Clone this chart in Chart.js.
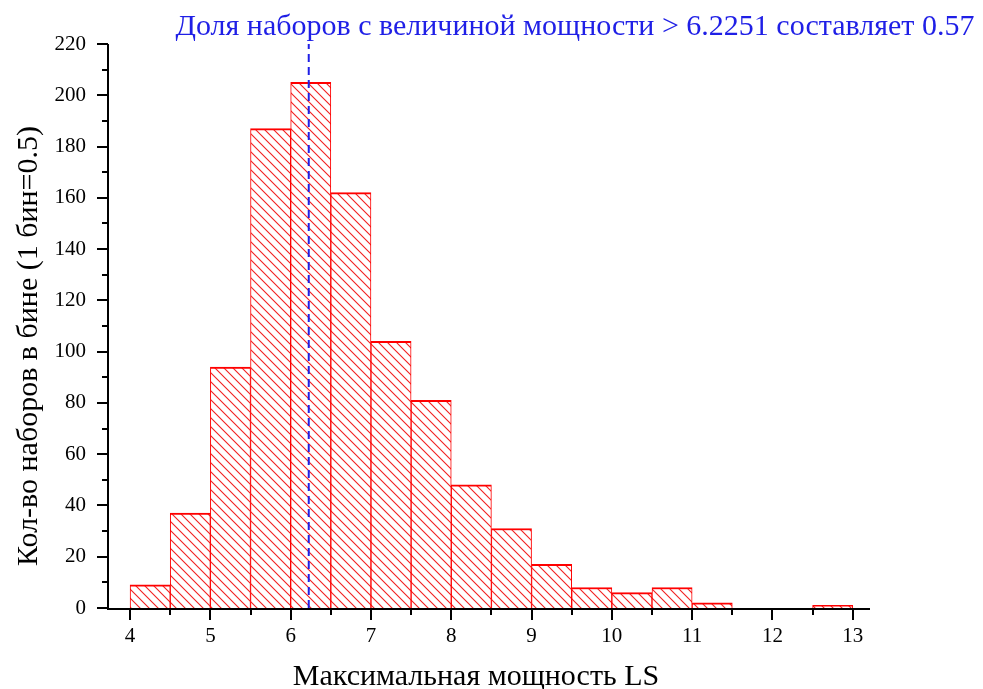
<!DOCTYPE html>
<html><head><meta charset="utf-8">
<style>html,body{margin:0;padding:0;background:#fff;}#wrap{width:983px;height:689px;}</style>
<script src="https://cdn.jsdelivr.net/npm/chart.js@4/dist/chart.umd.min.js"></script>
</head><body><div id="wrap"><canvas id="c" width="983" height="689"></canvas></div>
<script>
const binCenters = [4.25,4.75,5.25,5.75,6.25,6.75,7.25,7.75,8.25,8.75,9.25,9.75,10.25,10.75,11.25,12.75];
const counts     = [9,   37,  94,  187, 205, 162, 104, 81,  48,  31,  17,  8,   6,    8,    2,    1];
const xTickLabels = [4,5,6,7,8,9,10,11,12,13];
const xMinorTicks = [4.5,5.5,6.5,7.5,8.5,9.5,10.5,11.5,12.5];
const yTickLabels = [0,20,40,60,80,100,120,140,160,180,200,220];
const yMinorTicks = [10,30,50,70,90,110,130,150,170,190,210];
const threshold = 6.2251;
const annotationText = 'Доля наборов с величиной мощности > 6.2251 составляет 0.57';
const xTitle = 'Максимальная мощность LS';
const yTitle = 'Кол-во наборов в бине (1 бин=0.5)';

const FONT = "'Liberation Serif','Times New Roman',serif";

function hatch(){
  const s=9; const c=document.createElement('canvas'); c.width=s; c.height=s;
  const g=c.getContext('2d'); g.fillStyle='#fff'; g.fillRect(0,0,s,s);
  g.strokeStyle='rgba(240,20,20,0.95)'; g.lineWidth=1.1;
  g.beginPath();
  g.moveTo(-1,-1); g.lineTo(s+1,s+1);
  g.moveTo(-1,s-1); g.lineTo(1,s+1);
  g.moveTo(s-1,-1); g.lineTo(s+1,1);
  g.stroke();
  return g.createPattern(c,'repeat');
}

const overlay = {
  id:'overlay',
  afterDatasetsDraw(chart){
    const ctx=chart.ctx, xs=chart.scales.x, ys=chart.scales.y, a=chart.chartArea;
    ctx.save();
    const tx=xs.getPixelForValue(threshold);
    ctx.strokeStyle='#1f1fe6'; ctx.lineWidth=2; ctx.setLineDash([8,5]);
    ctx.beginPath(); ctx.moveTo(tx,a.bottom); ctx.lineTo(tx,a.top); ctx.stroke();
    ctx.setLineDash([]);
    ctx.strokeStyle='#000'; ctx.lineWidth=2;
    ctx.beginPath(); ctx.moveTo(a.left,a.top); ctx.lineTo(a.left,a.bottom+1); ctx.lineTo(a.right,a.bottom+1); ctx.stroke();
    ctx.beginPath();
    xTickLabels.forEach(v=>{const p=Math.round(xs.getPixelForValue(v)); ctx.moveTo(p,a.bottom); ctx.lineTo(p,a.bottom+12);});
    xMinorTicks.forEach(v=>{const p=Math.round(xs.getPixelForValue(v)); ctx.moveTo(p,a.bottom); ctx.lineTo(p,a.bottom+7);});
    yTickLabels.forEach(v=>{const p=Math.round(ys.getPixelForValue(v)); ctx.moveTo(a.left,p); ctx.lineTo(a.left-11,p);});
    yMinorTicks.forEach(v=>{const p=Math.round(ys.getPixelForValue(v)); ctx.moveTo(a.left,p); ctx.lineTo(a.left-6,p);});
    ctx.stroke();
    ctx.textAlign='center'; ctx.textBaseline='alphabetic';
    ctx.fillStyle='#1f1fe6'; ctx.font='30px '+FONT;
    ctx.fillText(annotationText,575,35);
    ctx.fillStyle='#000'; ctx.font='30px '+FONT;
    ctx.fillText(xTitle,476,685);
    ctx.translate(37,346); ctx.rotate(-Math.PI/2);
    ctx.fillText(yTitle,0,0);
    ctx.restore();
  }
};

new Chart(document.getElementById('c'),{
  type:'bar',
  data:{datasets:[{
    data: binCenters.map((x,i)=>({x:x,y:counts[i]})),
    backgroundColor: hatch(),
    borderColor:'#ff0000',
    borderWidth:{top:2,left:1,right:1,bottom:0},
    borderSkipped:false,
    barPercentage:1, categoryPercentage:1
  }]},
  options:{
    responsive:false, animation:false, devicePixelRatio:1,
    layout:{padding:{top:44,right:113,left:0,bottom:0}},
    plugins:{legend:{display:false},tooltip:{enabled:false}},
    scales:{
      x:{type:'linear',min:3.725,max:13.215,offset:false,
        grid:{display:false,drawTicks:false,offset:false},border:{display:false},
        afterBuildTicks:s=>{s.ticks=xTickLabels.map(v=>({value:v}));},
        afterFit:s=>{s.height=81;},
        ticks:{color:'#000',padding:16,maxRotation:0,autoSkip:false,font:{family:FONT,size:21}}
      },
      y:{min:0,max:220,
        grid:{display:false,drawTicks:false},border:{display:false},
        afterBuildTicks:s=>{s.ticks=yTickLabels.map(v=>({value:v}));},
        afterFit:s=>{s.width=108;},
        ticks:{color:'#000',padding:22,autoSkip:false,font:{family:FONT,size:21}}
      }
    }
  },
  plugins:[overlay]
});
</script></body></html>
